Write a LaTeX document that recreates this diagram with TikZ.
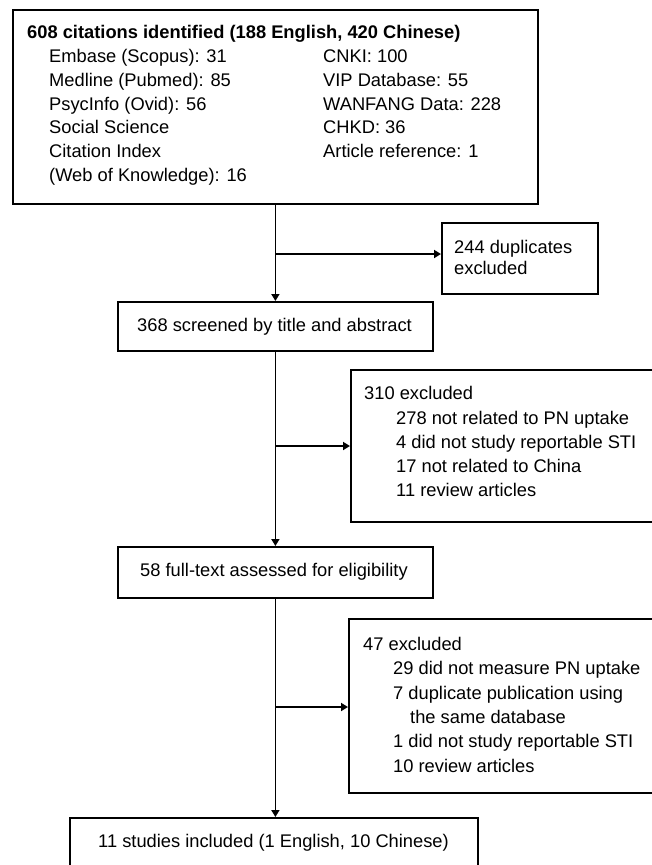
\documentclass[tikz,border=0pt]{standalone}
\usepackage{fontspec}
\setmainfont{Liberation Sans}
\usetikzlibrary{arrows.meta}
\begin{document}
\begin{tikzpicture}[x=1pt,y=1pt,
  box/.style={draw, line width=1.8pt, rectangle, anchor=north west, inner sep=0pt},
  txt/.style={anchor=base west, inner sep=0pt, font=\fontsize{18.3}{22}\selectfont},
  btxt/.style={txt, font=\fontsize{18.3}{22}\selectfont\bfseries},
  conn/.style={line width=1.8pt},
  arr/.style={conn, -{Triangle[length=7pt,width=8pt]}}]
\useasboundingbox (0,0) rectangle (652,-865);
\clip (0,0) rectangle (652,-865);
\fill[white] (0,0) rectangle (652,-865);
% boxes
\node[box, minimum width=525pt, minimum height=194pt] (top) at (12,-9) {};
\node[box, minimum width=156pt, minimum height=71pt] (dup) at (441,-222) {};
\node[box, minimum width=315pt, minimum height=49pt] (scr) at (117,-301) {};
\node[box, minimum width=330pt, minimum height=152pt] (exa) at (350,-369) {};
\node[box, minimum width=315pt, minimum height=51pt] (full) at (117,-546) {};
\node[box, minimum width=330pt, minimum height=174pt] (exb) at (348,-618) {};
\node[box, minimum width=408pt, minimum height=80pt] (incl) at (69,-817) {};
% top box text
\node[btxt] (t0) at (27,-38.5) {608 citations identified (188 English, 420 Chinese)};
\node[txt] (t1) at (49,-62.4) {Embase (Scopus): 31};
\node[txt] (t2) at (49,-86.2) {Medline (Pubmed): 85};
\node[txt] (t3) at (49,-110) {PsycInfo (Ovid): 56};
\node[txt] (t4) at (49,-133.8) {Social Science};
\node[txt] (t5) at (49,-157.6) {Citation Index};
\node[txt] (t6) at (49,-181.4) {(Web of Knowledge): 16};
\node[txt] (r1) at (323,-62.4) {CNKI: 100};
\node[txt] (r2) at (323,-86.2) {VIP Database: 55};
\node[txt] (r3) at (323,-110) {WANFANG Data: 228};
\node[txt] (r4) at (323,-133.8) {CHKD: 36};
\node[txt] (r5) at (323,-157.6) {Article reference: 1};
% duplicates
\node[txt] (d1) at (454,-253.5) {244 duplicates};
\node[txt] (d2) at (454,-274.5) {excluded};
% screened
\node[txt] (s1) at (137,-331.5) {368 screened by title and abstract};
% excluded A
\node[txt] (a0) at (364,-399.5) {310 excluded};
\node[txt] (a1) at (396,-424) {278 not related to PN uptake};
\node[txt] (a2) at (396,-448.3) {4 did not study reportable STI};
\node[txt] (a3) at (396,-472.6) {17 not related to China};
\node[txt] (a4) at (396,-496.9) {11 review articles};
% full text
\node[txt] (f1) at (140,-576.5) {58 full-text assessed for eligibility};
% excluded B
\node[txt] (b0) at (363,-650.5) {47 excluded};
\node[txt] (b1) at (393,-674.8) {29 did not measure PN uptake};
\node[txt] (b2) at (393,-699.1) {7 duplicate publication using};
\node[txt] (b3) at (410,-723.4) {the same database};
\node[txt] (b4) at (393,-747.7) {1 did not study reportable STI};
\node[txt] (b5) at (393,-772) {10 review articles};
% included
\node[txt] (i1) at (98,-847.5) {11 studies included (1 English, 10 Chinese)};
% connectors
\draw[arr] (top.south) -- (scr.north);
\coordinate (j1) at (top.south |- 0,-254);
\draw[arr] (j1) -- (j1 -| dup.west);
\draw[arr] (scr.south) -- (full.north);
\coordinate (j2) at (scr.south |- 0,-446);
\draw[arr] (j2) -- (j2 -| exa.west);
\draw[arr] (full.south) -- (full.south |- incl.north);
\coordinate (j3) at (full.south |- 0,-707);
\draw[arr] (j3) -- (j3 -| exb.west);
\end{tikzpicture}
\end{document}
